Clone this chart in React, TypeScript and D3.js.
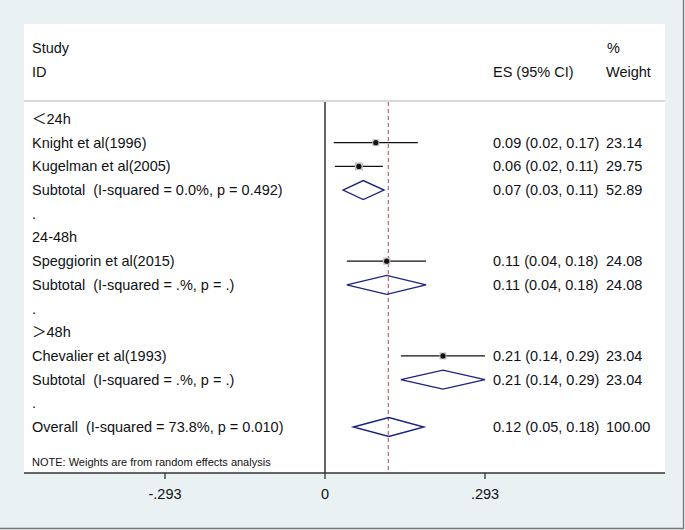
import React from "react";
import * as d3 from "d3";

const labels = [
  "\uFF1C24h",
  "Knight et al(1996)",
  "Kugelman et al(2005)",
  "Subtotal  (I-squared = 0.0%, p = 0.492)",
  ".",
  "24-48h",
  "Speggiorin et al(2015)",
  "Subtotal  (I-squared = .%, p = .)",
  ".",
  "\uFF1E48h",
  "Chevalier et al(1993)",
  "Subtotal  (I-squared = .%, p = .)",
  ".",
  "Overall  (I-squared = 73.8%, p = 0.010)",
];
// type: h=heading, s=study, d=diamond, b=blank
const rowTypes = ["h", "s", "s", "d", "b", "h", "s", "d", "b", "h", "s", "d", "b", "d"];
const esValues = [NaN, 0.093, 0.062, 0.07, NaN, NaN, 0.113, 0.113, NaN, NaN, 0.216, 0.216, NaN, 0.117];
const loValues = [NaN, 0.016, 0.018, 0.033, NaN, NaN, 0.040, 0.040, NaN, NaN, 0.139, 0.139, NaN, 0.052];
const hiValues = [NaN, 0.170, 0.106, 0.108, NaN, NaN, 0.185, 0.185, NaN, NaN, 0.293, 0.293, NaN, 0.181];
const weights = [NaN, 23.14, 29.75, 52.89, NaN, NaN, 24.08, 24.08, NaN, NaN, 23.04, 23.04, NaN, 100.0];
const ciTexts = [
  "", "0.09 (0.02, 0.17)", "0.06 (0.02, 0.11)", "0.07 (0.03, 0.11)", "", "",
  "0.11 (0.04, 0.18)", "0.11 (0.04, 0.18)", "", "", "0.21 (0.14, 0.29)",
  "0.21 (0.14, 0.29)", "", "0.12 (0.05, 0.18)",
];
const weightTexts = ["", "23.14", "29.75", "52.89", "", "", "24.08", "24.08", "", "", "23.04", "23.04", "", "100.00"];
const tickValues = [-0.293, 0, 0.293];
const tickLabels = ["-.293", "0", ".293"];
const overallES = 0.116;

const W = 685;
const H = 530;
const font = "'Liberation Sans', Arial, 'Noto Sans CJK SC', sans-serif";
const FS = 14.5;

export default function App() {
  const x = d3.scaleLinear().domain([-0.293, 0.293]).range([165, 485]);
  const y = d3.scaleLinear().domain([0, 13]).range([119, 427]);
  const boxSize = d3.scaleSqrt().domain([0, 30]).range([0, 8]);

  const plotLeft = 24, plotRight = 665, plotTop = 24, axisY = 473, headerLine = 101;

  return (
    <div style={{ position: "absolute", left: 0, top: 0 }}>
      <svg width={W} height={H} style={{ display: "block" }}>
        <rect x={0} y={0} width={W} height={H} fill="#e9f1f3" />
        <line x1={683.5} x2={683.5} y1={0} y2={528.5} stroke="#777" strokeWidth={1.3} />
        <line x1={0} x2={684} y1={528.5} y2={528.5} stroke="#777" strokeWidth={1.3} />
        <rect x={plotLeft} y={plotTop} width={plotRight - plotLeft} height={axisY - plotTop} fill="#fff" />
        {/* header */}
        <g fontFamily={font} fontSize={FS} fill="#111">
          <text x={32} y={53}>Study</text>
          <text x={32} y={77}>ID</text>
          <text x={493} y={77}>ES (95% CI)</text>
          <text x={607} y={53}>%</text>
          <text x={606} y={77}>Weight</text>
        </g>
        <line x1={plotLeft} x2={plotRight} y1={headerLine} y2={headerLine} stroke="#d9d9d9" strokeWidth={2} />
        {/* zero line */}
        <line x1={x(0)} x2={x(0)} y1={headerLine + 1} y2={axisY} stroke="#111" strokeWidth={1.3} />
        {/* overall dashed line */}
        <line x1={x(overallES)} x2={x(overallES)} y1={headerLine + 1} y2={axisY} stroke="#c07078" strokeWidth={1.3} strokeDasharray="4,3" />
        {/* rows */}
        {labels.map((lab, i) => {
          const cy = y(i);
          const t = rowTypes[i];
          return (
            <g key={i}>
              <text x={32} y={cy + 5} fontFamily={font} fontSize={FS} fill="#111" style={{ whiteSpace: "pre" }}>{lab}</text>
              {t === "s" && (
                <g>
                  <line x1={x(loValues[i])} x2={x(hiValues[i])} y1={cy} y2={cy} stroke="#111" strokeWidth={1.3} />
                  <rect
                    x={x(esValues[i]) - boxSize(weights[i]) / 2}
                    y={cy - boxSize(weights[i]) / 2}
                    width={boxSize(weights[i])}
                    height={boxSize(weights[i])}
                    fill="#c4c4c4"
                  />
                  <circle cx={x(esValues[i])} cy={cy} r={2.6} fill="#111" />
                </g>
              )}
              {t === "d" && (
                <path
                  d={`M${x(loValues[i])},${cy} L${x(esValues[i])},${cy - 9.5} L${x(hiValues[i])},${cy} L${x(esValues[i])},${cy + 9.5} Z`}
                  fill="none"
                  stroke="#1a237e"
                  strokeWidth={1.4}
                />
              )}
              {ciTexts[i] && (
                <text x={493} y={cy + 5} fontFamily={font} fontSize={FS} fill="#111">{ciTexts[i]}</text>
              )}
              {weightTexts[i] && (
                <text x={606} y={cy + 5} fontFamily={font} fontSize={FS} fill="#111">{weightTexts[i]}</text>
              )}
            </g>
          );
        })}
        <text x={32} y={466} fontFamily={font} fontSize={11} fill="#111">NOTE: Weights are from random effects analysis</text>
        {/* axis */}
        <line x1={plotLeft} x2={plotRight} y1={axisY} y2={axisY} stroke="#333" strokeWidth={1.5} />
        {tickValues.map((v, i) => (
          <g key={i}>
            <line x1={x(v)} x2={x(v)} y1={axisY} y2={axisY + 6} stroke="#333" strokeWidth={1.3} />
            <text x={x(v)} y={axisY + 26} textAnchor="middle" fontFamily={font} fontSize={FS} fill="#111">{tickLabels[i]}</text>
          </g>
        ))}
      </svg>
    </div>
  );
}
